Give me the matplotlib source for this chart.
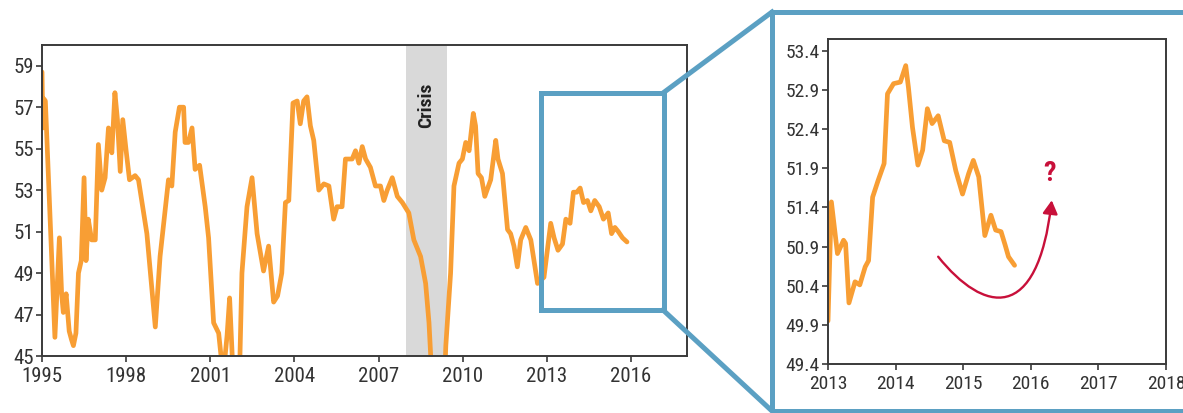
import matplotlib
matplotlib.use("Agg")
from matplotlib import pyplot as plt
from matplotlib.patches import Rectangle, FancyArrowPatch
from matplotlib.path import Path
from matplotlib.lines import Line2D

plt.rcParams['font.family'] = ['Roboto Condensed', 'Archivo Narrow', 'PT Sans Narrow', 'DejaVu Sans']

# full history (decimal years, index value)
hist_years = [1995.00, 1995.03, 1995.07, 1995.12, 1995.46, 1995.62, 1995.70, 1995.76, 1995.86, 1995.97,
              1996.05, 1996.12, 1996.21, 1996.30, 1996.40, 1996.50, 1996.57, 1996.65, 1996.77, 1996.90,
              1997.01, 1997.13, 1997.25, 1997.37, 1997.49, 1997.60, 1997.69, 1997.79, 1997.88, 1998.00,
              1998.12, 1998.32, 1998.44, 1998.74, 1999.04, 1999.21, 1999.51, 1999.63, 1999.75, 1999.90,
              2000.05, 2000.10, 2000.22, 2000.35, 2000.46, 2000.62, 2000.82, 2000.94, 2001.12, 2001.30,
              2001.46, 2001.60, 2001.69, 2001.80, 2001.95, 2002.05, 2002.13, 2002.31, 2002.49, 2002.67,
              2002.90, 2003.08, 2003.26, 2003.40, 2003.55, 2003.68, 2003.80, 2003.95, 2004.10, 2004.21,
              2004.33, 2004.45, 2004.57, 2004.69, 2004.87, 2005.05, 2005.23, 2005.40, 2005.52, 2005.70,
              2005.82, 2006.06, 2006.18, 2006.30, 2006.42, 2006.54, 2006.71, 2006.89, 2007.07, 2007.19,
              2007.31, 2007.49, 2007.67, 2007.85, 2008.08, 2008.26, 2008.50, 2008.68, 2008.80, 2008.90,
              2009.05, 2009.25, 2009.40, 2009.57, 2009.69, 2009.87, 2009.99, 2010.11, 2010.23, 2010.38,
              2010.46, 2010.55, 2010.67, 2010.79, 2011.00, 2011.18, 2011.26, 2011.42, 2011.60, 2011.71,
              2011.83, 2011.95, 2012.07, 2012.25, 2012.43, 2012.67, 2012.90, 2013.14, 2013.26, 2013.40,
              2013.56, 2013.68, 2013.83, 2013.95, 2014.07, 2014.19, 2014.31, 2014.45, 2014.57, 2014.71,
              2014.87, 2015.02, 2015.19, 2015.31, 2015.43, 2015.55, 2015.70, 2015.86]
hist_values = [58.7, 56.0, 57.4, 57.3, 45.9, 50.7, 48.0, 47.1, 48.0, 46.2,
               45.8, 45.5, 46.1, 49.0, 49.6, 53.6, 49.6, 51.6, 50.6, 50.6,
               55.2, 53.0, 53.6, 56.0, 54.8, 57.7, 56.4, 53.9, 56.4, 54.9,
               53.5, 53.7, 53.5, 50.9, 46.4, 49.8, 53.5, 53.2, 55.8, 57.0,
               57.0, 55.3, 55.3, 56.0, 54.0, 54.2, 52.2, 50.7, 46.6, 46.1,
               44.0, 46.0, 47.8, 44.5, 43.5, 44.5, 49.0, 52.2, 53.6, 50.9,
               49.1, 50.3, 47.6, 47.9, 49.0, 52.4, 52.5, 57.2, 57.3, 56.2,
               57.3, 57.5, 56.1, 55.4, 53.0, 53.3, 53.2, 51.6, 52.2, 52.2,
               54.5, 54.5, 54.9, 54.3, 55.1, 54.5, 54.1, 53.2, 53.2, 52.5,
               53.0, 53.6, 52.7, 52.4, 51.9, 50.6, 49.8, 48.5, 46.6, 44.0,
               40.0, 40.0, 45.5, 49.0, 53.2, 54.3, 54.5, 55.3, 54.9, 56.7,
               56.1, 53.8, 53.6, 52.7, 53.5, 55.4, 54.5, 53.8, 51.1, 50.9,
               50.3, 49.3, 50.6, 51.2, 50.6, 48.5, 48.8, 51.4, 50.7, 50.1,
               50.4, 51.6, 51.4, 52.9, 52.9, 53.1, 52.4, 52.5, 52.0, 52.5,
               52.2, 51.6, 51.9, 50.9, 51.2, 51.0, 50.7, 50.5]

# zoomed view 2013-2016
zoom_years = [2013.00, 2013.05, 2013.14, 2013.23, 2013.26, 2013.31, 2013.40, 2013.47, 2013.55, 2013.60,
              2013.66, 2013.74, 2013.83, 2013.88, 2013.97, 2014.07, 2014.15, 2014.19, 2014.25, 2014.33,
              2014.40, 2014.47, 2014.54, 2014.63, 2014.72, 2014.80, 2014.89, 2014.99, 2015.08, 2015.15,
              2015.23, 2015.32, 2015.41, 2015.48, 2015.56, 2015.62, 2015.67, 2015.76]
zoom_values = [49.95, 51.47, 50.81, 50.98, 50.94, 50.18, 50.45, 50.41, 50.64, 50.72,
               51.53, 51.74, 51.96, 52.85, 52.98, 53.00, 53.21, 52.93, 52.42, 51.94,
               52.13, 52.66, 52.47, 52.57, 52.25, 52.23, 51.87, 51.57, 51.83, 52.00,
               51.79, 51.04, 51.30, 51.11, 51.09, 50.92, 50.77, 50.66]

crisis = (2007.98, 2009.45)
left_xticks = [1995, 1998, 2001, 2004, 2007, 2010, 2013, 2016]
left_yticks = [45, 47, 49, 51, 53, 55, 57, 59]
right_xticks = [2013, 2014, 2015, 2016, 2017, 2018]
right_yticks = [49.4, 49.9, 50.4, 50.9, 51.4, 51.9, 52.4, 52.9, 53.4]

ORANGE = '#F89E34'
BLUE = '#5BA0C3'
RED = '#C8103A'
TXT = '#333333'

W, H = 1183, 413
fig = plt.figure(figsize=(W / 100, H / 100), dpi=100)


def px(x0, y0, x1, y1):
    # pixel box -> figure fraction rect
    return [x0 / W, 1 - y1 / H, (x1 - x0) / W, (y1 - y0) / H]


def style(ax, fs):
    for s in ax.spines.values():
        s.set_color('#3a3a3a')
        s.set_linewidth(1.4)
    ax.tick_params(direction='out', length=4, width=1.2, color='#3a3a3a',
                   labelsize=fs, labelcolor=TXT, pad=2)
    ax.tick_params(axis='x', pad=4)


# left panel
ax1 = fig.add_axes(px(42, 45, 687, 356))
ax1.axvspan(crisis[0], crisis[1], color='#d9d9d9', lw=0, zorder=0)
ax1.plot(hist_years, hist_values, color=ORANGE, lw=3.4, solid_joinstyle='round',
         solid_capstyle='round', zorder=2)
ax1.text((crisis[0] + crisis[1]) / 2, 57.1, 'Crisis', rotation=90, ha='center', va='center',
         fontsize=14, fontweight='bold', color='#222222')
ax1.set_xlim(1995, 2018)
ax1.set_ylim(45, 60)
ax1.set_xticks(left_xticks)
ax1.set_yticks(left_yticks)
style(ax1, 15)

# zoom box on left panel
box = Rectangle((2012.8, 47.22), 4.38, 10.46, fill=False, ec=BLUE, lw=3.6, zorder=3,
                joinstyle='miter')
ax1.add_patch(box)

# right panel
ax2 = fig.add_axes(px(828, 39, 1166, 364))
ax2.plot(zoom_years, zoom_values, color=ORANGE, lw=3.4, solid_joinstyle='round',
         solid_capstyle='round')
ax2.set_xlim(2013, 2018)
ax2.set_ylim(49.4, 53.55)
ax2.set_xticks(right_xticks)
ax2.set_yticks(right_yticks)
ax2.set_yticklabels([f'{v:.1f}' for v in right_yticks])
style(ax2, 14)

# curved red arrow + question mark
verts = [(2014.63, 50.77), (2015.3, 50.05), (2016.1, 49.9), (2016.31, 51.49)]
codes = [Path.MOVETO, Path.CURVE4, Path.CURVE4, Path.CURVE4]
arr = FancyArrowPatch(path=Path(verts, codes), arrowstyle='-|>,head_length=8,head_width=4.5',
                      color=RED, lw=1.7)
ax2.add_patch(arr)
ax2.text(2016.28, 51.83, '?', color=RED, fontsize=20, fontweight='bold',
         ha='center', va='center')

# big frame around the right panel and connectors
frame = Rectangle((772 / W, 1 - 411 / H), 0.5, (411 - 12) / H, transform=fig.transFigure,
                  fill=False, ec=BLUE, lw=3.6, clip_on=False, joinstyle='miter')
fig.add_artist(frame)
fig.add_artist(Line2D([663 / W, 772 / W], [1 - 93 / H, 1 - 12 / H], transform=fig.transFigure,
                      color=BLUE, lw=3.6))
fig.add_artist(Line2D([663 / W, 772 / W], [1 - 310 / H, 1 - 411 / H], transform=fig.transFigure,
                      color=BLUE, lw=3.6))

fig.savefig('out.png', dpi=100)
